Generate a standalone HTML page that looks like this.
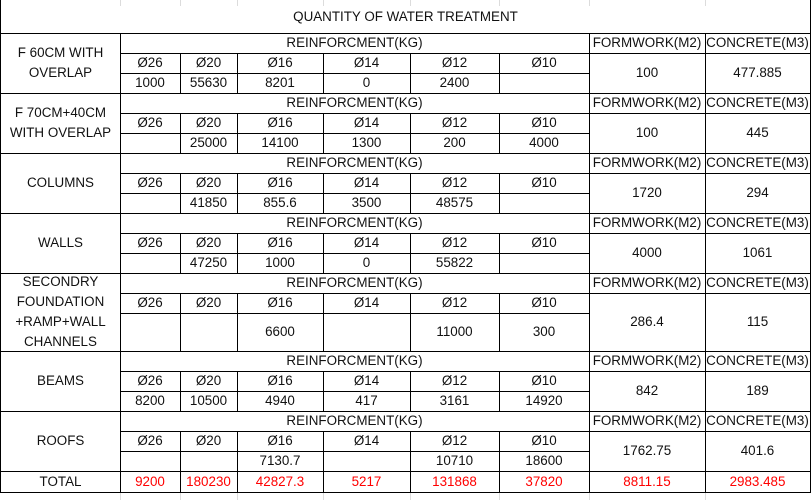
<!DOCTYPE html>
<html><head><meta charset="utf-8">
<style>
html,body{margin:0;padding:0;background:#fff;}
#wrap{position:relative;width:812px;height:500px;overflow:hidden;font-family:"Liberation Sans",sans-serif;font-size:13.4px;color:#111;}
.c{position:absolute;box-sizing:border-box;border-right:1px solid #000;border-bottom:1px solid #000;display:flex;align-items:center;justify-content:center;text-align:center;line-height:20px;white-space:nowrap;}
.g{position:absolute;background:#dcdcdc;}
.red{color:#f00;}
</style></head><body>
<div id="wrap"></div>
<script>
const xs=[1,120,180,237,323,410,499,589,705,810];
const groups=[
 {name:"F 60CM WITH<br>OVERLAP",y:33,rows:[20,20,20],vals:["1000","55630","8201","0","2400",""],fw:"100",cc:"477.885"},
 {name:"F 70CM+40CM<br>WITH OVERLAP",y:93,rows:[20,20,20],vals:["","25000","14100","1300","200","4000"],fw:"100",cc:"445"},
 {name:"COLUMNS",y:153,rows:[20,20,20],vals:["","41850","855.6","3500","48575",""],fw:"1720",cc:"294"},
 {name:"WALLS",y:213,rows:[20,20,20],vals:["","47250","1000","0","55822",""],fw:"4000",cc:"1061"},
 {name:"SECONDRY<br>FOUNDATION<br>+RAMP+WALL<br>CHANNELS",y:273,rows:[20,20,38],vals:["","","6600","","11000","300"],fw:"286.4",cc:"115"},
 {name:"BEAMS",y:351,rows:[20,20,20],vals:["8200","10500","4940","417","3161","14920"],fw:"842",cc:"189"},
 {name:"ROOFS",y:411,rows:[20,20,20],vals:["","","7130.7","","10710","18600"],fw:"1762.75",cc:"401.6"}
];
const bars=["Ø26","Ø20","Ø16","Ø14","Ø12","Ø10"];
const totals=["9200","180230","42827.3","5217","131868","37820","8811.15","2983.485"];
const W=document.getElementById('wrap');
function cell(x,y,w,h,html,name,cls){
 const d=document.createElement('div');
 d.className='c'+(cls?' '+cls:'');
 d.style.left=x+'px';d.style.top=y+'px';d.style.width=w+'px';d.style.height=h+'px';
 d.innerHTML=html;
 
 
 W.appendChild(d);return d;
}
for(const gx of [120,180,237,323,410,499,589,705]){const g=document.createElement('div');g.className='g';g.style.left=gx+'px';g.style.top='0px';g.style.width='1px';g.style.height='6px';W.appendChild(g);
const g2=document.createElement('div');g2.className='g';g2.style.left=gx+'px';g2.style.top='492px';g2.style.width='1px';g2.style.height='8px';W.appendChild(g2);}
const t=cell(0,0,811,34,"QUANTITY OF WATER TREATMENT",'table-title');
t.style.borderLeft='1px solid #000';t.style.borderTop='1px solid #000';t.style.top='-1px';t.style.height='35px';
for(const g of groups){
 const r0=g.y,r1=r0+g.rows[0],r2=r1+g.rows[1],r3=r2+g.rows[2];
 const n=cell(0,r0,xs[1]+1,r3-r0+1,g.name,'group-label');n.style.borderLeft='1px solid #000';n.style.lineHeight='20px';
 cell(xs[1],r0,xs[7]-xs[1]+1,r1-r0+1,"REINFORCMENT(KG)",'reinforcement-header');
 cell(xs[7],r0,xs[8]-xs[7]+1,r1-r0+1,"FORMWORK(M2)",'formwork-header');
 cell(xs[8],r0,xs[9]-xs[8]+1,r1-r0+1,"CONCRETE(M3)",'concrete-header');
 for(let i=0;i<6;i++){
  cell(xs[i+1],r1,xs[i+2]-xs[i+1]+1,r2-r1+1,bars[i],'bar-diameter');
  cell(xs[i+1],r2,xs[i+2]-xs[i+1]+1,r3-r2+1,g.vals[i],'reinforcement-value');
 }
 cell(xs[7],r1,xs[8]-xs[7]+1,r3-r1+1,g.fw,'formwork-value');
 cell(xs[8],r1,xs[9]-xs[8]+1,r3-r1+1,g.cc,'concrete-value');
}
const tl=cell(0,471,xs[1]+1,22,"TOTAL",'total-label');tl.style.borderLeft='1px solid #000';
for(let i=0;i<8;i++){cell(xs[i+1],471,xs[i+2]-xs[i+1]+1,22,totals[i],'total-value','red');}
</script>
</body></html>
